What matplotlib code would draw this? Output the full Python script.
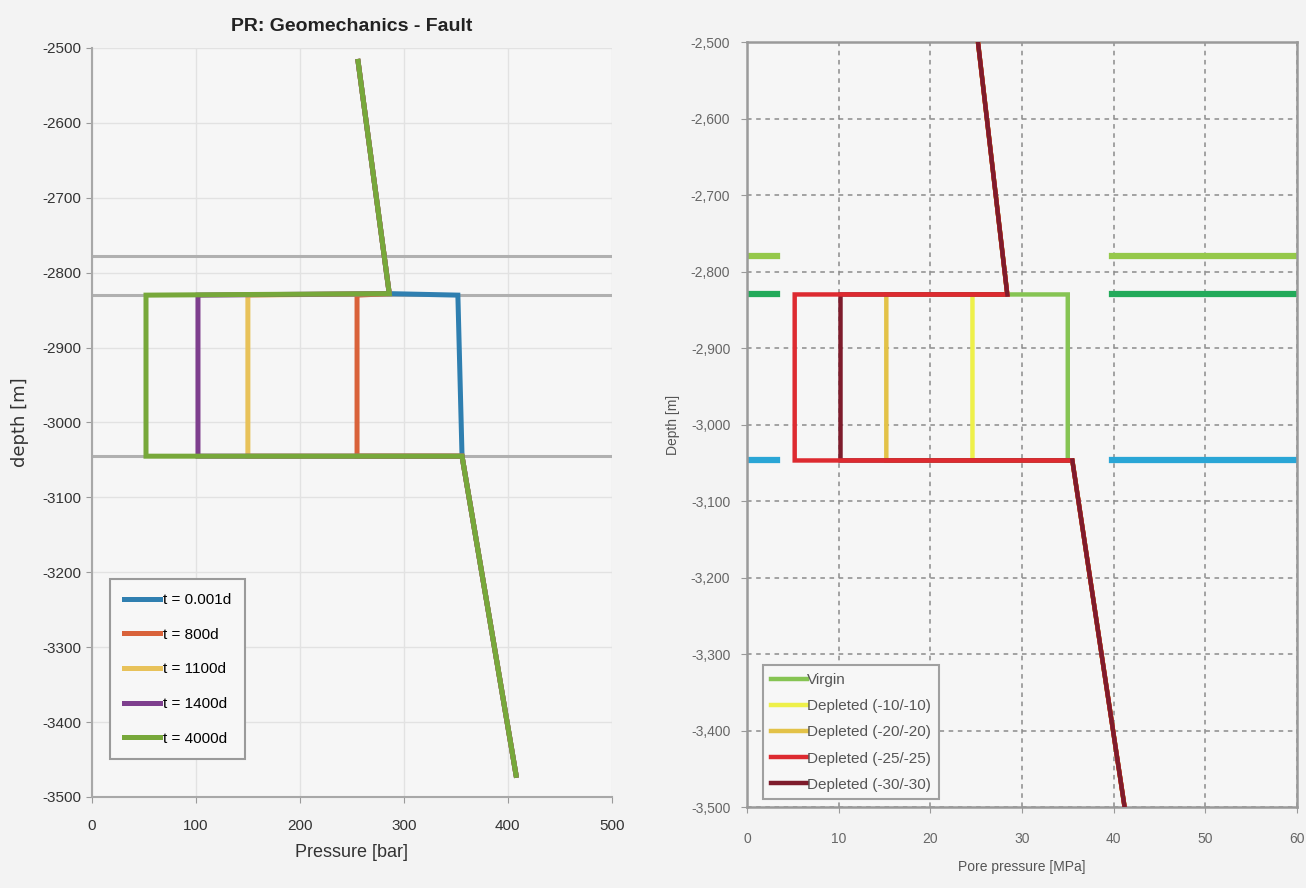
import matplotlib
matplotlib.use("Agg")
import matplotlib.pyplot as plt
from matplotlib.ticker import FuncFormatter, MultipleLocator

plt.rcParams['font.family'] = ['Liberation Sans', 'DejaVu Sans']
plt.rcParams['axes.unicode_minus'] = False

# ---------------- Left panel data (Pressure [bar] vs depth [m]) ----------------
left_labels = ["t = 0.001d", "t = 800d", "t = 1100d", "t = 1400d", "t = 4000d"]
left_colors = ["#2f7fb0", "#d9623a", "#e8c25a", "#7e3f8e", "#77a83a"]
left_p_above = [256, 286]          # pressure above reservoir
left_d_above = [-2518, -2828]
left_res_top_p = [352, 255, 150, 102, 52]   # pressure at reservoir top
left_res_base_p = [356, 255, 150, 102, 52]  # pressure at reservoir base
left_p_below = [356, 408]
left_d_below = [-3045, -3471]
res_top_depth = -2830
res_base_depth = -3045
horizon_depths = [-2778, -2830, -3045]

# ---------------- Right panel data (Pore pressure [MPa] vs Depth [m]) ----------------
right_labels = ["Virgin", "Depleted (-10/-10)", "Depleted (-20/-20)",
                "Depleted (-25/-25)", "Depleted (-30/-30)"]
right_colors = ["#86c453", "#eef04a", "#e3c248", "#dd2a30", "#7e1c2c"]
right_res_p = [35.0, 24.6, 15.2, 5.2, 10.2]
right_p_above = [25.2, 28.4]
right_d_above = [-2500, -2830]
right_p_below = [35.5, 41.2]
right_d_below = [-3047, -3500]
right_draw_order = [0, 1, 2, 4, 3]
marker_depths = [-2780, -2830, -3047]
marker_colors = ["#95c84a", "#22aa5a", "#2aa6d6"]
marker_left_x = [0, 3.3]
marker_right_x = [39.8, 60]

fig = plt.figure(figsize=(13.06, 8.88), dpi=100)
fig.patch.set_facecolor("#f3f3f3")

# ---------------- Left axes ----------------
ax1 = fig.add_axes([0.0704, 0.1025, 0.398, 0.8435])
ax1.set_facecolor("#f6f6f6")
for d in horizon_depths:
    ax1.axhline(d, color="#b0b0b0", lw=2.2, zorder=1)
for i in range(len(left_labels)):
    xs = left_p_above + [left_res_top_p[i], left_res_base_p[i]] + left_p_below
    ys = left_d_above + [res_top_depth, res_base_depth] + left_d_below
    ax1.plot(xs, ys, color=left_colors[i], lw=3.6, label=left_labels[i],
             solid_joinstyle="miter", zorder=3 + i)
ax1.set_xlim(0, 500)
ax1.set_ylim(-3500, -2500)
ax1.xaxis.set_major_locator(MultipleLocator(100))
ax1.yaxis.set_major_locator(MultipleLocator(100))
ax1.grid(True, color="#e2e2e2", lw=1.0)
ax1.set_axisbelow(True)
for s in ["top", "right"]:
    ax1.spines[s].set_visible(False)
for s in ["left", "bottom"]:
    ax1.spines[s].set_color("#a8a8a8")
    ax1.spines[s].set_linewidth(1.5)
ax1.tick_params(colors="#9a9a9a", labelcolor="#333333", labelsize=11, length=4)
ax1.tick_params(axis="x", pad=12)
ax1.set_title("PR: Geomechanics - Fault", fontsize=14, fontweight="bold",
              color="#222222", pad=12)
ax1.set_xlabel("Pressure [bar]", fontsize=13, color="#333333", labelpad=8)
ax1.set_ylabel("depth [m]", fontsize=13, color="#333333", labelpad=10,
               family=["DejaVu Sans"])
leg1 = ax1.legend(loc="lower left", bbox_to_anchor=(0.02, 0.04), fontsize=11,
                  handlelength=2.4, handletextpad=0.2, labelspacing=1.35,
                  frameon=True, fancybox=False, borderpad=0.9)
leg1.get_frame().set_edgecolor("#9a9a9a")
leg1.get_frame().set_linewidth(1.5)
leg1.get_frame().set_facecolor("#f7f7f7")
leg1.get_frame().set_alpha(1)

# ---------------- Right axes ----------------
ax2 = fig.add_axes([0.572, 0.0912, 0.421, 0.8615])
ax2.set_facecolor("#f6f6f6")
for d, c in zip(marker_depths, marker_colors):
    ax2.plot(marker_left_x, [d, d], color=c, lw=4.5, zorder=2)
    ax2.plot(marker_right_x, [d, d], color=c, lw=4.5, zorder=2)
handles = {}
for k, i in enumerate(right_draw_order):
    xs = right_p_above + [right_res_p[i], right_res_p[i]] + right_p_below
    ys = right_d_above + [right_d_above[-1], right_d_below[0]] + right_d_below
    h, = ax2.plot(xs, ys, color=right_colors[i], lw=3.2, zorder=3 + k,
                  solid_joinstyle="miter", label=right_labels[i])
    handles[i] = h
# outer profile overlay (above / below reservoir)
ax2.plot(right_p_above, right_d_above, color=right_colors[4], lw=3.0, zorder=10)
ax2.plot(right_p_below, right_d_below, color=right_colors[4], lw=3.0, zorder=10)
ax2.set_xlim(0, 60)
ax2.set_ylim(-3500, -2500)
ax2.xaxis.set_major_locator(MultipleLocator(10))
ax2.yaxis.set_major_locator(MultipleLocator(100))
ax2.yaxis.set_major_formatter(FuncFormatter(lambda v, p: f"{v:,.0f}"))
ax2.grid(True, color="#8c8c8c", lw=1.1, linestyle=(0, (3, 3)))
ax2.set_axisbelow(True)
for s in ax2.spines.values():
    s.set_color("#9a9a9a")
    s.set_linewidth(1.8)
ax2.tick_params(colors="#9a9a9a", labelcolor="#666666", labelsize=10, length=4, pad=8)
ax2.tick_params(axis="x", pad=14)
ax2.set_xlabel("Pore pressure [MPa]", fontsize=10, color="#555555", labelpad=10)
ax2.set_ylabel("Depth [m]", fontsize=10, color="#555555", labelpad=8)
leg2 = ax2.legend([handles[i] for i in range(5)], right_labels, loc="lower left",
                  bbox_to_anchor=(0.015, 0.0), fontsize=11,
                  handlelength=2.4, handletextpad=0.0, labelspacing=0.8,
                  frameon=True, fancybox=False, borderpad=0.5)
leg2.get_frame().set_edgecolor("#a0a0a0")
leg2.get_frame().set_linewidth(1.5)
leg2.get_frame().set_facecolor("#f7f7f7")
leg2.get_frame().set_alpha(1)
for t in leg2.get_texts():
    t.set_color("#555555")

fig.savefig("out.png", dpi=100, facecolor=fig.get_facecolor())
